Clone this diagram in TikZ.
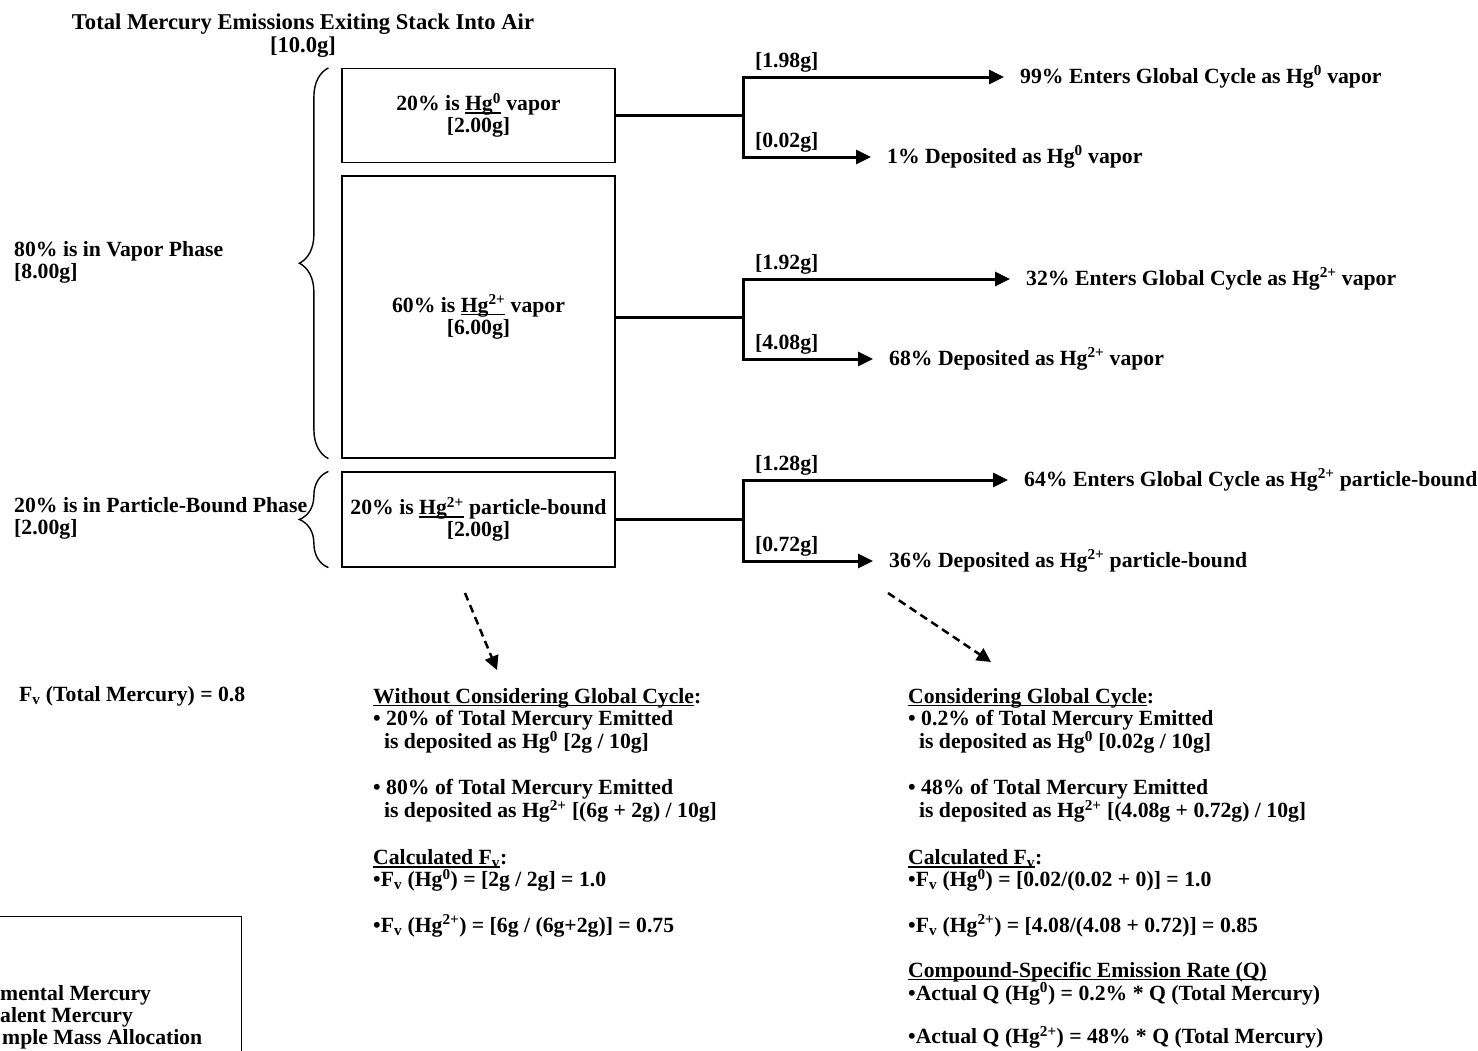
\documentclass[tikz,border=0pt]{standalone}
\usepackage{fontspec}
\setmainfont{Liberation Serif}
\usetikzlibrary{arrows.meta,decorations.pathreplacing,positioning}

% underline drawn close under the baseline
\newcommand{\ulin}[1]{\sbox0{#1}\rlap{\rule[-2.8pt]{\wd0}{1.4pt}}\usebox0}

\begin{document}
\begin{tikzpicture}[
          x=1pt, y=-1pt,
          every node/.style={font=\fontsize{21.7}{22}\selectfont\bfseries, inner sep=0pt},
          hgbox/.style={draw, line width=1.2pt, minimum width=273pt, align=center},
          flow/.style={line width=3pt},
          tip/.style={flow, -{Triangle[length=15pt,width=14pt]}, shorten >=16pt},
          amt/.style={above right, inner xsep=10pt, inner ysep=3pt},
          note/.style={anchor=west, align=left},
          phase/.style={decorate, decoration={brace, amplitude=29pt}, line width=1.4pt},
          hint/.style={line width=2.5pt, dash pattern=on 8pt off 5pt, -{Triangle[length=14pt,width=14pt]}}
    ]
      \useasboundingbox (0,0) rectangle (1478,1050);
      \clip (0,0) rectangle (1478,1050);

      \node[align=center, font=\fontsize{22.6}{23}\selectfont\bfseries] (title) at (303,36) {Total Mercury Emissions Exiting Stack Into Air\\{[10.0g]}};

      % the three fractions
      \node[hgbox, minimum height=94pt] (hg0) at (478.5,115.5) {20\% is \ulin{Hg\textsuperscript{0}} vapor\\{[2.00g]}};
      \node[hgbox, minimum height=282pt] (hgv) at (478.5,317) {60\% is \ulin{Hg\textsuperscript{2+}} vapor\\{[6.00g]}};
      \node[hgbox, minimum height=95pt] (hgp) at (478.5,519.5) {20\% is \ulin{Hg\textsuperscript{2+}} particle-bound\\{[2.00g]}};

      \draw[phase] ([xshift=-13pt]hgv.south west) -- ([xshift=-13pt]hg0.north west);
      \draw[phase] ([xshift=-13pt]hgp.south west) -- ([xshift=-13pt]hgp.north west);
      \node[note] (vap) at (14,262) {80\% is in Vapor Phase\\{[8.00g]}};
      \node[note] (par) at (14,518.5) {20\% is in Particle-Bound Phase\\{[2.00g]}};

      % where each fraction goes
      \node[note] (gc0) at (1020,77) {99\% Enters Global Cycle as Hg\textsuperscript{0} vapor};
      \node[note] (dp0) at (887,157) {1\% Deposited as Hg\textsuperscript{0} vapor};
      \node[note] (gcv) at (1026,279) {32\% Enters Global Cycle as Hg\textsuperscript{2+} vapor};
      \node[note] (dpv) at (889,359) {68\% Deposited as Hg\textsuperscript{2+} vapor};
      \node[note] (gcp) at (1024,480) {64\% Enters Global Cycle as Hg\textsuperscript{2+} particle-bound};
      \node[note] (dpp) at (889,561) {36\% Deposited as Hg\textsuperscript{2+} particle-bound};

      \coordinate (s0) at ([xshift=128pt]hg0.east);
      \coordinate (sv) at ([xshift=128pt]hgv.east);
      \coordinate (sp) at ([xshift=128pt]hgp.east);
      \draw[flow] (hg0.east) -- (s0);
      \draw[flow] (hgv.east) -- (sv);
      \draw[flow] (hgp.east) -- (sp);
      \draw[tip] (s0) |- (gc0.west) node[amt, pos=0.5] {[1.98g]};
      \draw[tip] (s0) |- (dp0.west) node[amt, pos=0.5] {[0.02g]};
      \draw[tip] (sv) |- (gcv.west) node[amt, pos=0.5] {[1.92g]};
      \draw[tip] (sv) |- (dpv.west) node[amt, pos=0.5] {[4.08g]};
      \draw[tip] (sp) |- (gcp.west) node[amt, pos=0.5] {[1.28g]};
      \draw[tip] (sp) |- (dpp.west) node[amt, pos=0.5] {[0.72g]};

      \coordinate (d1s) at (465,593);
      \coordinate (d1e) at (497,670);
      \coordinate (d2s) at (888,593);
      \coordinate (d2e) at (991,662);
      \draw[hint] (d1s) -- (d1e);
      \draw[hint] (d2s) -- (d2e);

      % results
      \node[note] (fvt) at (19,696) {F\textsubscript{v} (Total Mercury) = 0.8};

      \node[note, anchor=north west] (without) at (373,688) {\ulin{Without Considering Global Cycle}:\\
        • 20\% of Total Mercury Emitted\\
        \hspace*{0.5em}is deposited as Hg\textsuperscript{0} [2g / 10g]\\[24pt]
        • 80\% of Total Mercury Emitted\\
        \hspace*{0.5em}is deposited as Hg\textsuperscript{2+} [(6g + 2g) / 10g]\\[25pt]
        \ulin{Calculated F\textsubscript{v}}:\\
        •F\textsubscript{v} (Hg\textsuperscript{0}) = [2g / 2g] = 1.0\\[22pt]
        •F\textsubscript{v} (Hg\textsuperscript{2+}) = [6g / (6g+2g)] = 0.75};

      \node[note, anchor=north west] (with) at (908,688) {\ulin{Considering Global Cycle}:\\
        • 0.2\% of Total Mercury Emitted\\
        \hspace*{0.5em}is deposited as Hg\textsuperscript{0} [0.02g / 10g]\\[24pt]
        • 48\% of Total Mercury Emitted\\
        \hspace*{0.5em}is deposited as Hg\textsuperscript{2+} [(4.08g + 0.72g) / 10g]\\[25pt]
        \ulin{Calculated F\textsubscript{v}}:\\
        •F\textsubscript{v} (Hg\textsuperscript{0}) = [0.02/(0.02 + 0)] = 1.0\\[22pt]
        •F\textsubscript{v} (Hg\textsuperscript{2+}) = [4.08/(4.08 + 0.72)] = 0.85\\[23pt]
        \ulin{Compound-Specific Emission Rate (Q)}\\[0pt]
        •Actual Q (Hg\textsuperscript{0}) = 0.2\% * Q (Total Mercury)\\[20pt]
        •Actual Q (Hg\textsuperscript{2+}) = 48\% * Q (Total Mercury)};

      % key, cut off at the page edge
      \node[draw, line width=1.2pt, anchor=north east, minimum width=300pt, minimum height=200pt] (key) at (242,916) {};
      \node[note, anchor=north west] (keytxt) at (0,985) {mental Mercury\\alent Mercury\\\hspace*{2pt}mple Mass Allocation};

\end{tikzpicture}
\end{document}
